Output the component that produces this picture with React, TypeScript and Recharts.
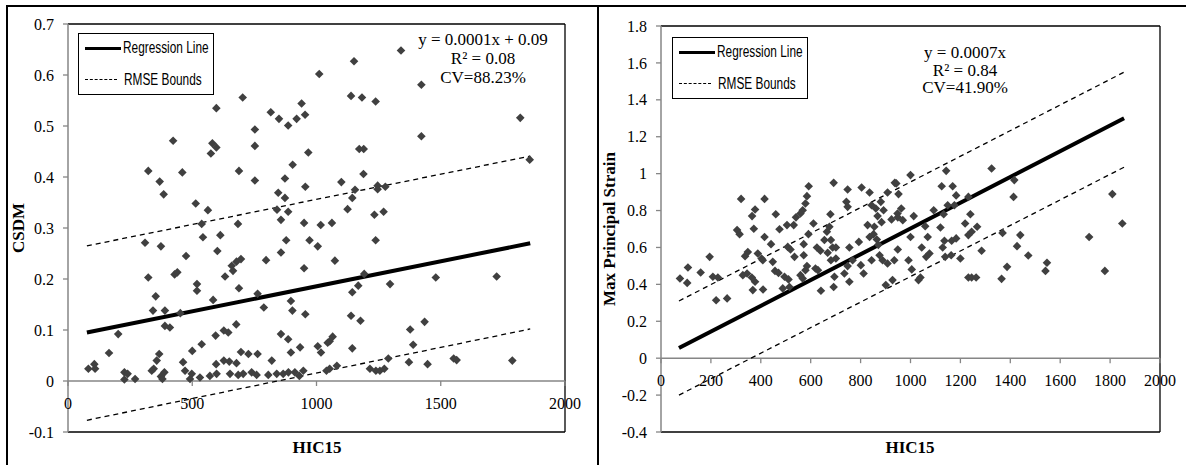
import React from "react";
import {
  ComposedChart, Scatter, Line, XAxis, YAxis, ReferenceLine, Legend,
} from "recharts";

// HIC15 vs CSDM (left panel)
const csdmPoints: [number, number][] = [
  [703, 0.556], [597, 0.535], [816, 0.527], [849, 0.514], [886, 0.501], [920, 0.514], [752, 0.493],
  [423, 0.471], [581, 0.466], [597, 0.458], [575, 0.446], [752, 0.461], [904, 0.424], [323, 0.412],
  [460, 0.409], [688, 0.412], [369, 0.391], [752, 0.393], [873, 0.397], [385, 0.366], [846, 0.369],
  [873, 0.359], [514, 0.348], [563, 0.335], [841, 0.336], [886, 0.332], [857, 0.316], [538, 0.308],
  [684, 0.308], [543, 0.282], [613, 0.286], [310, 0.271], [374, 0.264], [878, 0.276], [857, 0.252],
  [601, 0.255], [797, 0.237], [475, 0.245], [696, 0.239], [678, 0.234], [659, 0.226], [664, 0.216],
  [429, 0.209], [440, 0.213], [632, 0.205], [323, 0.203], [519, 0.19], [519, 0.177], [688, 0.182],
  [763, 0.171], [353, 0.166], [584, 0.159], [897, 0.157], [342, 0.138], [390, 0.138], [452, 0.133],
  [788, 0.144], [903, 0.138], [390, 0.108], [410, 0.105], [202, 0.092], [677, 0.111], [645, 0.095],
  [627, 0.099], [594, 0.089], [857, 0.092], [886, 0.082], [538, 0.072], [500, 0.059], [165, 0.055],
  [367, 0.053], [357, 0.04], [345, 0.024], [337, 0.02], [82, 0.024], [106, 0.033], [109, 0.024],
  [227, 0.017], [240, 0.014], [227, 0.003], [270, 0.004], [388, 0.017], [374, 0.009], [380, 0.004],
  [463, 0.037], [471, 0.02], [498, 0.014], [491, 0.004], [531, 0.007], [596, 0.033], [627, 0.04],
  [649, 0.038], [678, 0.035], [696, 0.057], [726, 0.053], [763, 0.053], [820, 0.04], [897, 0.056],
  [934, 0.066], [571, 0.01], [598, 0.014], [652, 0.014], [685, 0.012], [705, 0.014], [739, 0.017],
  [759, 0.012], [806, 0.012], [840, 0.014], [866, 0.014], [887, 0.017], [913, 0.017], [931, 0.01],
  [947, 0.02],
  [1340, 0.648], [1151, 0.627], [1011, 0.602], [1422, 0.581], [1139, 0.559], [1183, 0.556],
  [1238, 0.548], [940, 0.544], [954, 0.522], [1820, 0.516], [1422, 0.48], [967, 0.448], [1172, 0.455],
  [1190, 0.455], [1189, 0.406], [1100, 0.39], [955, 0.381], [1155, 0.375], [1144, 0.359], [1125, 0.337],
  [1246, 0.383], [1246, 0.376], [1277, 0.381], [1858, 0.434], [1233, 0.326], [1270, 0.332], [950, 0.31],
  [1017, 0.306], [1062, 0.31], [972, 0.276], [1005, 0.264], [1238, 0.276], [1074, 0.236], [950, 0.221],
  [1192, 0.21], [1480, 0.203], [1725, 0.205], [1296, 0.19], [1168, 0.187], [1144, 0.174], [955, 0.131],
  [1139, 0.128], [1177, 0.118], [1435, 0.116], [1377, 0.101], [1389, 0.071], [1065, 0.087], [1053, 0.078],
  [1045, 0.075], [1005, 0.068], [1018, 0.056], [1144, 0.064], [1552, 0.044], [1564, 0.041], [1289, 0.044],
  [1372, 0.037], [1447, 0.033], [1788, 0.04], [1082, 0.03], [1053, 0.024], [1040, 0.02], [1215, 0.024],
  [1239, 0.02], [1255, 0.02], [1273, 0.024],
];

// HIC15 vs max principal strain (right panel)
const strainPoints: [number, number][] = [
  [592, 0.932], [692, 0.95], [748, 0.914], [804, 0.925], [836, 0.898], [908, 0.898], [937, 0.95],
  [321, 0.863], [415, 0.863], [585, 0.878], [579, 0.838], [377, 0.806], [365, 0.77], [460, 0.78],
  [568, 0.802], [559, 0.784], [541, 0.763], [532, 0.721], [505, 0.721], [475, 0.699], [679, 0.78],
  [743, 0.847], [748, 0.82], [844, 0.829], [861, 0.811], [881, 0.847], [892, 0.802], [611, 0.73],
  [675, 0.712], [665, 0.685], [655, 0.64], [681, 0.64], [688, 0.6], [701, 0.6], [828, 0.721],
  [855, 0.712], [868, 0.77], [884, 0.737], [924, 0.752], [948, 0.784], [305, 0.694], [315, 0.672],
  [372, 0.701], [415, 0.657], [441, 0.618], [508, 0.603], [519, 0.589], [572, 0.618], [591, 0.672],
  [625, 0.6], [639, 0.582], [755, 0.6], [793, 0.63], [836, 0.657], [852, 0.672], [865, 0.643],
  [871, 0.614], [195, 0.549], [348, 0.575], [337, 0.553], [388, 0.567], [403, 0.54], [408, 0.531],
  [448, 0.522], [535, 0.549], [572, 0.558], [585, 0.499], [579, 0.477], [619, 0.486], [629, 0.477],
  [668, 0.571], [681, 0.531], [701, 0.54], [768, 0.531], [748, 0.499], [801, 0.504], [844, 0.531],
  [876, 0.558], [888, 0.531], [908, 0.513], [935, 0.531], [108, 0.491], [159, 0.464], [76, 0.432],
  [105, 0.408], [208, 0.441], [228, 0.437], [328, 0.45], [345, 0.459], [364, 0.437], [377, 0.414],
  [368, 0.369], [457, 0.473], [471, 0.462], [495, 0.441], [511, 0.427], [409, 0.372], [559, 0.45],
  [568, 0.432], [488, 0.378], [515, 0.386], [695, 0.441], [692, 0.386], [735, 0.459], [755, 0.414],
  [812, 0.459], [641, 0.365], [901, 0.396], [928, 0.423], [221, 0.314], [265, 0.324],
  [1000, 0.992], [1143, 1.015], [1325, 1.028], [943, 0.947], [952, 0.889], [1125, 0.932], [1169, 0.932],
  [1183, 0.882], [1416, 0.965], [1413, 0.874], [1149, 0.829], [1176, 0.829], [1232, 0.874], [963, 0.811],
  [1093, 0.802], [1133, 0.78], [1013, 0.77], [949, 0.763], [969, 0.748], [1240, 0.78], [1059, 0.715],
  [1120, 0.708], [1219, 0.73], [1267, 0.712], [1245, 0.685], [1232, 0.667], [1000, 0.657], [1069, 0.657],
  [1136, 0.636], [1165, 0.636], [1183, 0.649], [1369, 0.679], [1440, 0.667], [1716, 0.657], [1849, 0.73],
  [1809, 0.889], [949, 0.589], [1045, 0.6], [1129, 0.6], [1285, 0.582], [1427, 0.607], [1472, 0.556],
  [1063, 0.549], [1076, 0.567], [1139, 0.549], [1163, 0.558], [1200, 0.54], [992, 0.531], [1005, 0.481],
  [1387, 0.495], [1547, 0.517], [1541, 0.473], [1779, 0.473], [1040, 0.437], [1032, 0.423], [1232, 0.437],
  [1245, 0.437], [1263, 0.437], [1365, 0.43],
];

// line endpoints
const csdmLineX = [76, 1860];
const csdmReg = [0.095, 0.27];
const csdmUpper = [0.265, 0.441];
const csdmLower = [-0.077, 0.102];

const strainLineX = [72, 1856];
const strainReg = [0.055, 1.3];
const strainUpper = [0.31, 1.55];
const strainLower = [-0.2, 1.035];

const csdmXTicks = [0, 500, 1000, 1500, 2000];
const csdmYTicks = [-0.1, 0, 0.1, 0.2, 0.3, 0.4, 0.5, 0.6, 0.7];
const strainXTicks = [0, 200, 400, 600, 800, 1000, 1200, 1400, 1600, 1800, 2000];
const strainYTicks = [-0.4, -0.2, 0, 0.2, 0.4, 0.6, 0.8, 1, 1.2, 1.4, 1.6, 1.8];

const toPts = (pts: [number, number][]) => pts.map(([x, y]) => ({ x, y }));
const toLine = (xs: number[], ys: number[]) => xs.map((x, i) => ({ x, y: ys[i] }));

const SERIF = "'Liberation Serif', 'Times New Roman', serif";
const SANS = "'Liberation Sans', Arial, sans-serif";
const AXIS_GREY = "#868686";
const CHART_H = 465;
const X_AXIS_H = 33;

const Diamond = (p: any) => {
  const { cx, cy } = p;
  if (cx == null || cy == null) return null;
  const r = 4.3;
  return (
    <polygon
      points={`${cx},${cy - r} ${cx + r},${cy} ${cx},${cy + r} ${cx - r},${cy}`}
      fill="#404040"
    />
  );
};

// x axis crosses at y = 0, so ticks are lifted from the plot bottom
const makeXTick = (shift: number) => (props: any) => {
  const { x, y, payload } = props;
  const zy = y - shift;
  return (
    <g>
      <line x1={x} x2={x} y1={zy} y2={zy + 5} stroke={AXIS_GREY} strokeWidth={1.3} />
      <text x={x} y={zy + 22} textAnchor="middle" dominantBaseline="central"
        fontFamily={SERIF} fontSize={16} fill="#000">
        {payload.value}
      </text>
    </g>
  );
};

// narrow legend text (no condensed font installed, so squeeze horizontally)
const squeeze: React.CSSProperties = {
  position: "absolute", whiteSpace: "nowrap", transform: "scaleX(0.74)", transformOrigin: "0 50%",
};

const LegendBox = () => (
  <div style={{
    position: "relative", width: 134, height: 60, border: "1px solid #000", background: "#fff",
    fontFamily: SANS, fontSize: 16, color: "#000", lineHeight: "20px",
  }}>
    <div style={{ position: "absolute", left: 6, top: 13, width: 36, height: 3, background: "#000" }} />
    <div style={{ ...squeeze, left: 44, top: 4 }}>Regression Line</div>
    <div style={{ position: "absolute", left: 6, top: 45, width: 32, borderTop: "1px dashed #000" }} />
    <div style={{ ...squeeze, left: 45, top: 36 }}>RMSE Bounds</div>
  </div>
);

type PanelProps = {
  left: number;
  width: number;
  top: number;
  right: number;
  yAxisWidth: number;
  points: [number, number][];
  lineX: number[];
  reg: number[];
  upper: number[];
  lower: number[];
  xTicks: number[];
  yTicks: number[];
  legendPos: { left: number; top: number };
};

function Panel(p: PanelProps) {
  const yMin = p.yTicks[0];
  const yMax = p.yTicks[p.yTicks.length - 1];
  const xMax = p.xTicks[p.xTicks.length - 1];
  const plotH = CHART_H - p.top - X_AXIS_H;
  const shift = (plotH * (0 - yMin)) / (yMax - yMin);
  return (
    <div style={{ position: "absolute", left: p.left, top: 0 }}>
      <ComposedChart width={p.width} height={CHART_H}
        margin={{ top: p.top, right: p.right, bottom: 0, left: 0 }}>
        <XAxis type="number" dataKey="x" domain={[0, xMax]} ticks={p.xTicks} height={X_AXIS_H}
          axisLine={false} tickLine={false} tickSize={0} tickMargin={0}
          tick={makeXTick(shift)} interval={0} />
        <YAxis type="number" dataKey="y" domain={[yMin, yMax]} ticks={p.yTicks} width={p.yAxisWidth}
          interval={0} tickSize={5} tickMargin={9}
          tickFormatter={(v: number) => String(Math.round(v * 10) / 10)}
          tick={{ fontFamily: SERIF, fontSize: 16, fill: "#000" }}
          axisLine={{ stroke: AXIS_GREY, strokeWidth: 1.5 }}
          tickLine={{ stroke: AXIS_GREY, strokeWidth: 1.3 }} />
        <ReferenceLine y={yMax} stroke="#000" strokeWidth={1.3} />
        <ReferenceLine y={yMin} stroke="#000" strokeWidth={1.3} />
        <ReferenceLine x={xMax} stroke="#000" strokeWidth={1.3} />
        <ReferenceLine y={0} stroke={AXIS_GREY} strokeWidth={1.5} />
        <Legend layout="vertical" align="center" verticalAlign="middle"
          content={() => <LegendBox />}
          wrapperStyle={{ left: p.legendPos.left, top: p.legendPos.top, width: 136, height: 62 }} />
        <Scatter data={toPts(p.points)} shape={Diamond} isAnimationActive={false} legendType="none" />
        <Line data={toLine(p.lineX, p.upper)} dataKey="y" type="linear" stroke="#000" strokeWidth={1.3}
          strokeDasharray="5 4" dot={false} activeDot={false} isAnimationActive={false} legendType="none" />
        <Line data={toLine(p.lineX, p.lower)} dataKey="y" type="linear" stroke="#000" strokeWidth={1.3}
          strokeDasharray="5 4" dot={false} activeDot={false} isAnimationActive={false} legendType="none" />
        <Line data={toLine(p.lineX, p.reg)} dataKey="y" type="linear" stroke="#000" strokeWidth={4}
          dot={false} activeDot={false} isAnimationActive={false} legendType="none" />
      </ComposedChart>
    </div>
  );
}

const titleStyle: React.CSSProperties = {
  position: "absolute", fontFamily: SERIF, fontWeight: "bold", fontSize: 17,
  whiteSpace: "nowrap", color: "#000",
};

const noteStyle: React.CSSProperties = {
  position: "absolute", fontFamily: SERIF, fontSize: 17, textAlign: "center",
  whiteSpace: "nowrap", color: "#000", width: 200,
};

export default function App() {
  return (
    <div style={{ position: "fixed", left: 0, top: 0, width: 1186, height: 465, background: "#fff", overflow: "hidden" }}>
      <Panel left={0} width={598} top={24} right={33} yAxisWidth={68}
        points={csdmPoints} lineX={csdmLineX} reg={csdmReg} upper={csdmUpper} lower={csdmLower}
        xTicks={csdmXTicks} yTicks={csdmYTicks}
        legendPos={{ left: 78, top: 33 }} />
      <Panel left={598} width={588} top={26} right={26} yAxisWidth={63}
        points={strainPoints} lineX={strainLineX} reg={strainReg} upper={strainUpper} lower={strainLower}
        xTicks={strainXTicks} yTicks={strainYTicks}
        legendPos={{ left: 74, top: 37 }} />

      {/* outer frame */}
      <div style={{ position: "absolute", left: 7, top: 5, width: 1179, height: 1.5, background: "#000" }} />
      <div style={{ position: "absolute", left: 6, top: 5, width: 1.5, height: 460, background: "#000" }} />
      <div style={{ position: "absolute", left: 597, top: 5, width: 2, height: 460, background: "#000" }} />

      {/* regression annotations */}
      <div style={{ ...noteStyle, left: 383, top: 30, lineHeight: "19px" }}>
        y = 0.0001x + 0.09<br />R² = 0.08<br />CV=88.23%
      </div>
      <div style={{ ...noteStyle, left: 865, top: 44, lineHeight: "17.5px" }}>
        y = 0.0007x<br />R² = 0.84<br />CV=41.90%
      </div>

      {/* axis titles */}
      <div style={{ ...titleStyle, left: 317, top: 448, transform: "translate(-50%, -50%)" }}>HIC15</div>
      <div style={{ ...titleStyle, left: 910, top: 448, transform: "translate(-50%, -50%)" }}>HIC15</div>
      <div style={{ ...titleStyle, left: 19, top: 228, transform: "translate(-50%, -50%) rotate(-90deg)" }}>CSDM</div>
      <div style={{ ...titleStyle, left: 610, top: 229, transform: "translate(-50%, -50%) rotate(-90deg)" }}>Max Principal Strain</div>
    </div>
  );
}
